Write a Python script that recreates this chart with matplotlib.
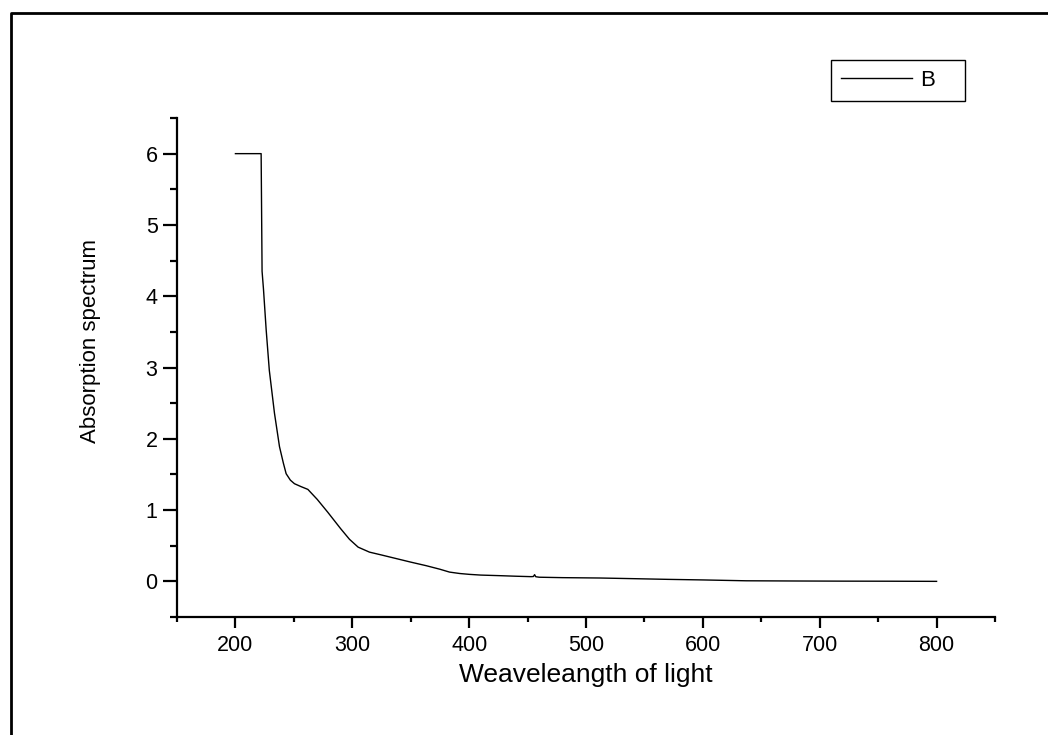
import matplotlib
matplotlib.use("Agg")
import matplotlib.pyplot as plt
from matplotlib.lines import Line2D
from matplotlib.ticker import MultipleLocator

# absorption spectrum
wavelength = [200, 222, 222.8, 224, 226.3, 229, 233.4, 237.7, 241, 243.4, 247,
              250.5, 256, 262, 270, 279, 290, 297.6, 305, 314.7, 325, 337.5,
              350, 363.2, 375, 383.2, 392, 400.3, 410, 426, 440, 453, 455, 456,
              457, 460, 480, 511.6, 540, 570, 600, 637, 680, 720, 760, 800]
absorbance = [6.0, 6.0, 4.35, 4.1, 3.53, 2.96, 2.36, 1.89, 1.66, 1.51, 1.42,
              1.37, 1.33, 1.29, 1.15, 0.97, 0.74, 0.59, 0.48, 0.41, 0.37, 0.32,
              0.27, 0.22, 0.17, 0.13, 0.11, 0.098, 0.088, 0.08, 0.072, 0.066,
              0.068, 0.094, 0.065, 0.058, 0.052, 0.047, 0.038, 0.028, 0.02,
              0.008, 0.005, 0.003, 0.002, 0.0]
series_label = "B"

plt.rcParams["font.family"] = ["Liberation Sans", "DejaVu Sans"]

fig = plt.figure(figsize=(10.48, 7.35), dpi=100)
ax = fig.add_axes([177 / 1048, 1 - 617 / 735, (995 - 177) / 1048, (617 - 118) / 735])

line, = ax.plot(wavelength, absorbance, color="black", lw=1.0, label=series_label)

ax.set_xlim(150, 850)
ax.set_ylim(-0.5, 6.5)
ax.xaxis.set_major_locator(MultipleLocator(100))
ax.xaxis.set_minor_locator(MultipleLocator(50))
ax.yaxis.set_major_locator(MultipleLocator(1))
ax.yaxis.set_minor_locator(MultipleLocator(0.5))

for side in ("top", "right"):
    ax.spines[side].set_visible(False)
for side in ("left", "bottom"):
    ax.spines[side].set_linewidth(1.6)

ax.tick_params(axis="x", which="major", direction="out", length=8, width=1.6,
               labelsize=15.5, pad=5)
ax.tick_params(axis="x", which="minor", direction="out", length=3.5, width=1.6)
ax.tick_params(axis="y", which="major", direction="out", length=10, width=1.6,
               labelsize=15.5, pad=4)
ax.tick_params(axis="y", which="minor", direction="out", length=5, width=1.6)

ax.set_xlabel("Weaveleangth of light", fontsize=19)
ax.xaxis.set_label_coords(0.5, (617 - 663) / 499)
ax.set_ylabel("Absorption spectrum", fontsize=16)
ax.yaxis.set_label_coords((101 - 177) / 818, (617 - 341) / 499)

# legend box sitting above the plot, top right
leg = fig.legend(handles=[line], loc="upper left",
                 bbox_to_anchor=(831 / 1048, 1 - 100 / 735, 134 / 1048, 40 / 735),
                 mode="expand", fancybox=False, edgecolor="black", fontsize=16,
                 handlelength=3.2, handletextpad=0.35, borderpad=0.45,
                 borderaxespad=0, framealpha=1)
leg.get_frame().set_linewidth(1.0)

# outer frame: only left and top edges show in the reference
fig.add_artist(Line2D([10.5 / 1048, 10.5 / 1048, 1.0], [0.0, 1 - 13 / 735, 1 - 13 / 735],
                      transform=fig.transFigure, color="black", lw=2.0))

fig.savefig("out.png", dpi=100)
